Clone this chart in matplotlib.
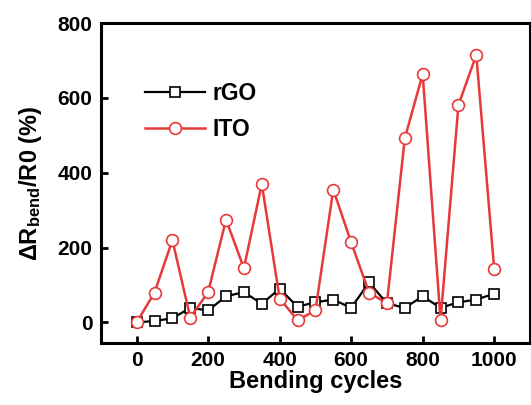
import numpy as np
import matplotlib
matplotlib.use('Agg')
import matplotlib.pyplot as plt

plt.rcParams['font.family'] = ['Liberation Sans', 'DejaVu Sans']
plt.rcParams['font.weight'] = 'bold'
plt.rcParams['mathtext.default'] = 'regular'

cycles = [0, 50, 100, 150, 200, 250, 300, 350, 400, 450, 500,
          550, 600, 650, 700, 750, 800, 850, 900, 950, 1000]
rgo = [0, 4, 11, 39, 32, 70, 81, 50, 90, 42, 54,
       61, 39, 107, 51, 39, 70, 39, 54, 61, 77]
ito = [0, 80, 220, 13, 81, 275, 145, 370, 64, 6, 32,
       355, 214, 80, 51, 492, 664, 6, 581, 715, 143]

red = '#e8393a'

fig = plt.figure(figsize=(5.31, 4.05), dpi=100)
ax = fig.add_axes([0.190, 0.153, 0.808, 0.790])

ax.plot(cycles, rgo, color='black', lw=1.6, marker='s', ms=7,
        mfc='white', mec='black', mew=1.2, label='rGO')
ax.plot(cycles, ito, color=red, lw=1.8, marker='o', ms=8.5,
        mfc='white', mec=red, mew=1.2, label='ITO')

ax.set_xlim(-100, 1100)
ax.set_ylim(-55, 800)
ax.set_xticks([0, 200, 400, 600, 800, 1000])
ax.set_yticks([0, 200, 400, 600, 800])

for s in ax.spines.values():
    s.set_linewidth(2.2)
ax.tick_params(direction='in', width=2, length=5, labelsize=15, pad=6)
for lab in ax.get_xticklabels() + ax.get_yticklabels():
    lab.set_fontweight('bold')

ax.set_xlabel('Bending cycles', fontsize=17, fontweight='bold', labelpad=0)
ax.set_ylabel(r'$\Delta$R$_{\mathregular{bend}}$/R0 (%)', fontsize=17,
              fontweight='bold', labelpad=10)

leg = ax.legend(loc='upper left', bbox_to_anchor=(0.055, 0.88), frameon=False,
                fontsize=16.5, handlelength=2.6, handletextpad=0.35,
                labelspacing=0.55)
for t in leg.get_texts():
    t.set_fontweight('bold')

fig.savefig('out.png', dpi=100)
